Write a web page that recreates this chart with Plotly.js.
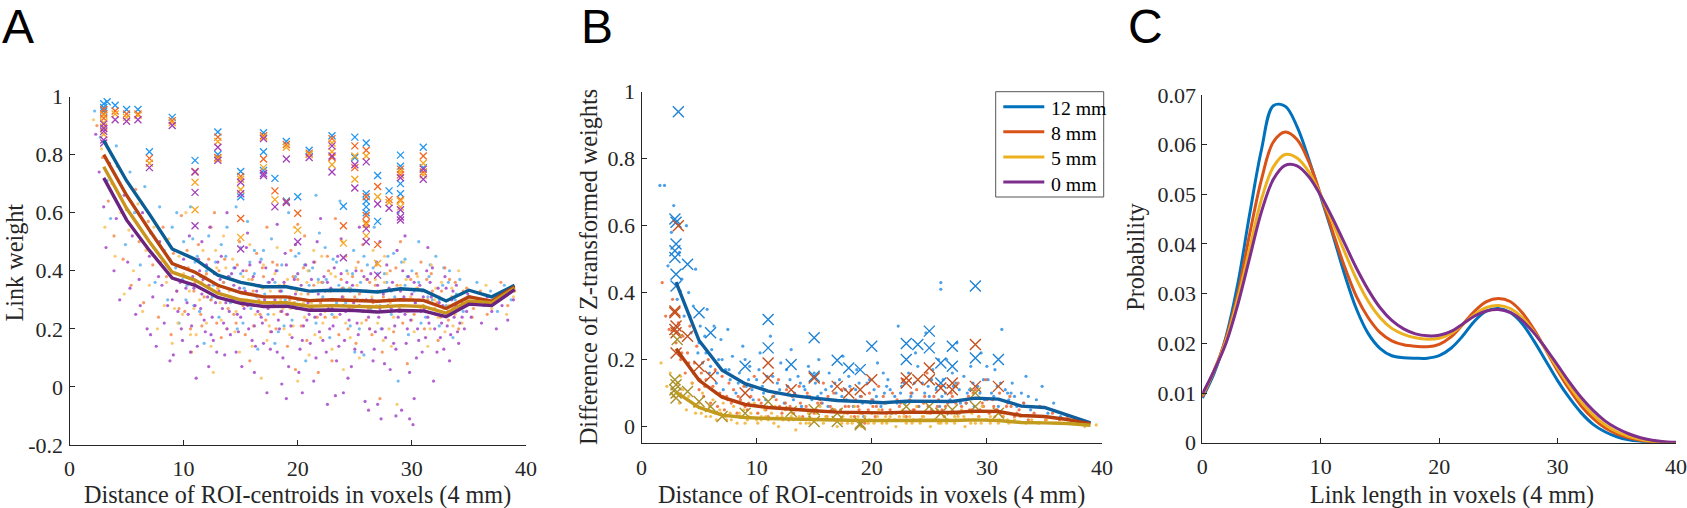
<!DOCTYPE html>
<html>
<head>
<meta charset="utf-8">
<script src="https://cdn.plot.ly/plotly-3.0.1.min.js"></script>
<style>
  html, body { margin: 0; padding: 0; background: #fff; }
  #fig { width: 1687px; height: 508px; }
</style>
</head>
<body>
<div id="fig"></div>
<script>
// ---------- series names ----------
const seriesNames = ['12 mm', '8 mm', '5 mm', '0 mm'];

// ---------- tick positions and labels ----------
const distTicks = [0, 10, 20, 30, 40];
const distTickText = ['0', '10', '20', '30', '40'];
const weightTicks = [-0.2, 0, 0.2, 0.4, 0.6, 0.8, 1];
const weightTickText = ['-0.2', '0', '0.2', '0.4', '0.6', '0.8', '1'];
const diffTicks = [0, 0.2, 0.4, 0.6, 0.8, 1];
const diffTickText = ['0', '0.2', '0.4', '0.6', '0.8', '1'];
const probTicks = [0, 0.01, 0.02, 0.03, 0.04, 0.05, 0.06, 0.07];
const probTickText = ['0', '0.01', '0.02', '0.03', '0.04', '0.05', '0.06', '0.07'];

// ---------- panel A: link weight vs. centroid distance ----------
const binCenters = [3, 5, 7, 9, 11, 13, 15, 17, 19, 21, 23, 25, 27, 29, 31, 33, 35, 37, 39];
const meanWeight12 = [0.848, 0.71, 0.595, 0.475, 0.44, 0.385, 0.36, 0.345, 0.345, 0.33, 0.333, 0.332, 0.327, 0.338, 0.333, 0.296, 0.333, 0.31, 0.35];
const meanWeight8  = [0.80, 0.66, 0.54, 0.425, 0.395, 0.35, 0.325, 0.31, 0.31, 0.297, 0.30, 0.298, 0.295, 0.30, 0.298, 0.27, 0.31, 0.295, 0.345];
const meanWeight5  = [0.758, 0.615, 0.50, 0.395, 0.368, 0.323, 0.30, 0.29, 0.29, 0.278, 0.28, 0.278, 0.275, 0.28, 0.277, 0.254, 0.296, 0.29, 0.34];
const meanWeight0  = [0.72, 0.575, 0.47, 0.375, 0.35, 0.308, 0.288, 0.277, 0.278, 0.264, 0.265, 0.263, 0.258, 0.263, 0.262, 0.242, 0.285, 0.28, 0.335];

// strongest links per distance (x markers)
const topWeight12 = [[3,.975],[3,.962],[3,.95],[3.3,.982],[4,.97],[5,.955],[6,.955],[7,.81],[9,.928],[11,.78],[13,.878],[13,.8],[15,.742],[15,.655],[17,.875],[17,.81],[17,.745],[18,.718],[19,.845],[19,.64],[20,.655],[21,.815],[23,.865],[24,.622],[25,.86],[25,.79],[26,.84],[26,.665],[26,.64],[26,.62],[26,.6],[27,.728],[27,.57],[28,.675],[29,.798],[29,.76],[29,.7],[29,.665],[31,.825],[31,.755]];
const topWeight8 = [[3,.955],[3,.94],[3,.925],[4,.95],[5,.94],[6,.94],[7,.787],[9,.917],[11,.742],[13,.86],[13,.79],[15,.725],[15,.58],[17,.865],[17,.785],[18,.675],[19,.835],[19,.638],[20,.598],[21,.805],[23,.855],[23,.79],[24,.555],[25,.83],[25,.755],[26,.815],[26,.655],[26,.59],[26,.565],[27,.69],[27,.49],[28,.645],[29,.75],[29,.73],[29,.645],[31,.795],[31,.74]];
const topWeight5 = [[3,.935],[3,.91],[3,.895],[3,.87],[4,.94],[5,.928],[6,.935],[7,.77],[9,.91],[11,.705],[11,.61],[13,.845],[13,.785],[15,.715],[15,.68],[15,.515],[17,.86],[17,.755],[18,.645],[19,.825],[20,.54],[21,.8],[23,.84],[23,.81],[23,.765],[24,.495],[25,.795],[25,.715],[26,.795],[26,.56],[26,.52],[27,.655],[27,.425],[28,.635],[29,.74],[29,.64],[29,.62],[31,.77],[31,.73]];
const topWeight0 = [[3,.905],[3,.89],[3,.88],[3,.85],[3,.84],[4,.92],[5,.915],[6,.92],[7,.755],[9,.9],[11,.74],[11,.67],[11,.555],[13,.825],[13,.78],[15,.705],[15,.665],[15,.475],[17,.855],[17,.735],[17,.728],[18,.62],[19,.785],[19,.635],[20,.5],[21,.79],[23,.83],[23,.795],[23,.74],[24,.445],[25,.765],[25,.685],[26,.775],[26,.545],[26,.5],[27,.63],[27,.385],[28,.615],[29,.72],[29,.61],[29,.585],[29,.575],[31,.75],[31,.715]];

// individual links [distance, weight]
const linkWeight12 = [[2.2,.95],[2.7,.86],[3.3,.71],[3.6,.58],[4.1,.83],[4.4,.66],[4.9,.49],[5.3,.74],[5.7,.6],[6.2,.42],[6.6,.69],[7.1,.53],[7.5,.36],[7.9,.62],
[8.3,.47],[8.6,.3],[9.0,.55],[9.3,.41],[9.6,.22],[10.0,.5],[10.3,.35],[10.6,.62],[10.9,.28],[11.2,.45],[11.5,.38],[11.8,.15],[12.2,.52],[12.5,.31],[12.8,.43],[13.1,.24],[13.5,.36],[13.8,.55],
[14.1,.29],[14.4,.41],[14.7,.2],[15.0,.48],[15.3,.34],[15.6,.57],[15.9,.27],[16.2,.39],[16.5,.13],[16.8,.44],[17.1,.32],[17.4,.25],[17.7,.51],[18.0,.36],[18.3,.19],[18.6,.42],[18.9,.3],[19.2,.6],[19.5,.23],[19.8,.38],[20.1,.46],[20.4,.28],[20.7,.09],[21.0,.35],[21.3,.41],[21.6,.22],[21.9,.53],[22.2,.31],[22.5,.37],[22.8,.17],[23.1,.44],[23.4,.29],[23.7,.64],[24.0,.34],[24.3,.4],[24.6,.21],[24.9,.47],[25.2,.3],[25.5,.36],[25.8,.11],[26.1,.42],[26.4,.27],[26.7,.55],[27.0,.33],[27.3,.2],[27.6,.39],[27.9,.45],[28.2,.25],[28.5,.31],[28.8,.02],[29.1,.43],[29.4,.35],[29.7,.18],
[30.0,.4],[30.3,.29],[30.6,.5],[30.9,.33],[31.2,.24],[31.5,.38],[31.8,.3],[32.1,.45],[32.4,.21],[32.7,.35],[33.0,.28],[33.3,.4],[33.6,.17],[33.9,.32],[34.2,.37],[34.5,.26],
[35.1,.31],[35.7,.36],[36.3,.28],[36.9,.33],[37.5,.26],[38.1,.35],[38.7,.3],
[8.8,.44],[9.4,.6],[10.2,.3],[10.8,.51],[11.4,.26],[12.0,.4],[12.6,.35],[13.3,.49],[14.0,.38],[14.6,.33],[15.2,.22],[15.8,.43],[16.4,.31],[17.0,.47],[17.6,.29],[18.2,.4],[18.8,.21],[19.4,.34],[20.0,.3],[20.6,.42],[21.2,.27],[21.8,.37],[22.4,.48],[23.0,.25],[23.6,.35],[24.2,.29],[24.8,.39],[25.4,.2],[26.0,.33],[26.6,.41],[27.2,.28],[27.8,.36],[28.4,.46],[29.0,.26],[29.6,.38],[30.2,.33],[30.8,.22],[31.6,.42],[32.4,.3],[33.2,.36],[34.0,.27],
[9.9,.37],[11.0,.43],[12.4,.3],[13.7,.45],[15.0,.39],[16.2,.47],[17.4,.36],[18.6,.33],[19.8,.45],[21.0,.4],[22.2,.36],[23.4,.43],[24.6,.34],[25.8,.45],[27.0,.39],[28.2,.33],[29.4,.44],[30.6,.36],[31.4,.31],[32.8,.41],[33.8,.3],[14.6,.62],[21.6,.66],[28.8,.6],[25.0,.12],[18.0,.15]];
const linkWeight8 = [[2.4,.9],[2.9,.79],[3.4,.64],[3.9,.52],[4.2,.76],[4.7,.44],[5.0,.61],[5.4,.35],[5.8,.68],[6.1,.5],[6.5,.29],[6.9,.57],[7.3,.42],[7.8,.24],
[8.2,.55],[8.5,.38],[8.9,.18],[9.1,.46],[9.4,.33],[9.8,.59],[10.1,.26],[10.4,.41],[10.7,.12],[11.0,.36],[11.3,.49],[11.6,.21],[12.0,.39],[12.4,.3],[12.7,.6],[13.0,.34],[13.3,.17],[13.6,.44],[13.9,.27],
[14.3,.37],[14.6,.22],[14.9,.5],[15.2,.28],[15.5,.4],[15.8,.09],[16.1,.33],[16.4,.46],[16.7,.25],[17.0,.38],[17.3,.55],[17.6,.19],[17.9,.31],[18.2,.42],[18.5,.26],[18.8,.35],[19.1,.14],[19.4,.47],[19.7,.29],[20.0,.37],[20.3,.21],[20.6,.52],[20.9,.32],[21.2,.27],[21.5,.43],[21.8,.05],[22.1,.36],[22.4,.24],[22.7,.4],[23.0,.3],[23.3,.58],[23.6,.18],[23.9,.34],[24.2,.45],[24.5,.27],[24.8,.38],[25.1,.15],[25.4,.32],[25.7,.49],[26.0,.23],[26.3,.36],[26.6,.29],[26.9,.42],[27.2,-.04],[27.5,.31],[27.8,.26],[28.1,.4],[28.4,.19],[28.7,.35],[29.0,.5],[29.3,.28],[29.6,.08],[29.9,.37],
[30.2,.25],[30.5,.34],[30.8,.43],[31.1,.2],[31.4,.3],[31.7,.39],[32.0,.27],[32.3,.16],[32.6,.33],[32.9,.41],[33.2,.23],[33.5,.31],[33.8,.36],[34.1,.2],[34.4,.29],[34.8,.34],
[35.4,.27],[36.0,.33],[36.6,.25],[37.2,.3],[37.8,.36],[38.4,.28],[39.0,.33],
[8.7,.41],[9.6,.27],[10.3,.47],[10.9,.33],[11.5,.25],[12.2,.44],[12.9,.22],[13.5,.36],[14.1,.3],[14.7,.42],[15.4,.18],[16.0,.37],[16.6,.3],[17.2,.23],[17.8,.43],[18.4,.33],[19.0,.25],[19.6,.38],[20.2,.3],[20.8,.16],[21.4,.35],[22.0,.29],[22.6,.45],[23.2,.24],[23.8,.37],[24.4,.2],[25.0,.31],[25.6,.4],[26.2,.27],[26.8,.35],[27.4,.12],[28.0,.3],[28.6,.41],[29.2,.22],[29.8,.3],[30.4,.39],[31.0,.28],[31.8,.33],[32.5,.24],[33.3,.37],[34.0,.28],
[9.3,.39],[10.6,.2],[11.8,.31],[13.1,.4],[14.4,.25],[15.7,.32],[16.9,.41],[18.1,.2],[19.3,.3],[20.5,.41],[21.7,.24],[22.9,.33],[24.1,.3],[25.3,.43],[26.5,.18],[27.7,.33],[28.9,.27],[30.1,.3],[31.3,.37],[32.2,.29],[33.6,.27],[34.5,.33],[12.4,.55],[20.0,.56],[26.0,.55],[23.0,.09],[19.8,.06]];
const linkWeight5 = [[2.1,.92],[2.8,.82],[3.1,.55],[3.7,.7],[4.0,.45],[4.5,.6],[4.8,.32],[5.2,.54],[5.6,.4],[6.0,.63],[6.4,.26],[6.7,.47],[7.0,.35],[7.4,.55],[7.7,.2],
[8.0,.43],[8.3,.28],[8.7,.51],[9.0,.15],[9.3,.37],[9.6,.45],[9.9,.25],[10.2,.6],[10.5,.33],[10.8,.4],[11.1,.18],[11.4,.3],[11.7,.47],[12.0,.22],[12.3,.35],[12.6,.05],[12.9,.41],[13.2,.29],[13.5,.52],[13.8,.2],
[14.0,.33],[14.3,.44],[14.6,.26],[14.9,.12],[15.2,.38],[15.5,.3],[15.8,.49],[16.1,.21],[16.4,.35],[16.7,.28],[17.0,.42],[17.3,.16],[17.6,.33],[17.9,.25],[18.2,.48],[18.5,.3],[18.8,.2],[19.1,.37],[19.4,.27],[19.7,.55],[20.0,.02],[20.3,.32],[20.6,.24],[20.9,.4],[21.2,.29],[21.5,.18],[21.8,.36],[22.1,.45],[22.4,.26],[22.7,.33],[23.0,.13],[23.3,.38],[23.6,.28],[23.9,.5],[24.2,.22],[24.5,.34],[24.8,.27],[25.1,.41],[25.4,.1],[25.7,.3],[26.0,.37],[26.3,.2],[26.6,.47],[26.9,.28],[27.2,.33],[27.5,.16],[27.8,.39],[28.1,.29],[28.4,.24],[28.7,-.06],[29.0,.35],[29.3,.43],[29.6,.26],[29.9,.31],
[30.2,.19],[30.5,.38],[30.8,.27],[31.1,.33],[31.4,.14],[31.7,.42],[32.0,.3],[32.3,.24],[32.6,.36],[32.9,.19],[33.2,.28],[33.5,.34],[33.8,.25],[34.1,.4],[34.4,.22],[34.7,.3],
[35.3,.24],[35.9,.3],[36.5,.35],[37.0,.27],[37.7,.32],[38.3,.25],[38.9,.31],
[8.5,.36],[9.5,.22],[10.0,.39],[10.9,.27],[11.6,.36],[12.4,.14],[13.0,.34],[13.7,.41],[14.5,.19],[15.0,.29],[15.7,.37],[16.3,.25],[16.9,.34],[17.5,.21],[18.0,.39],[18.7,.27],[19.3,.18],[19.9,.33],[20.5,.29],[21.0,.11],[21.7,.3],[22.2,.22],[22.9,.39],[23.4,.24],[24.0,.31],[24.6,.17],[25.2,.35],[25.9,.26],[26.5,.31],[27.0,.22],[27.6,.36],[28.2,.14],[28.9,.3],[29.5,.37],[30.0,.23],[30.6,.3],[31.3,.26],[32.1,.34],[32.8,.27],[33.6,.21],[34.3,.32],
[9.2,.27],[10.6,.18],[11.9,.38],[13.3,.23],[14.8,.36],[16.0,.14],[17.1,.29],[18.4,.35],[19.6,.21],[20.8,.36],[22.0,.17],[23.1,.3],[24.4,.39],[25.6,.22],[26.8,.37],[28.0,.2],[29.2,.28],[30.4,.34],[31.6,.2],[32.4,.31],[33.4,.25],[34.6,.28],[12.8,.47],[21.4,.47],[27.6,.45],[24.0,.06],[16.8,.03]];
const linkWeight0 = [[2.3,.87],[2.6,.74],[3.0,.62],[3.2,.48],[3.5,.77],[3.9,.4],[4.1,.58],[4.4,.3],[4.8,.66],[5.1,.43],[5.5,.52],[5.8,.25],[6.1,.37],[6.4,.6],[6.8,.2],[7.0,.45],[7.3,.31],[7.6,.14],[7.9,.5],
[8.1,.35],[8.3,.22],[8.5,.42],[8.8,.09],[9.0,.3],[9.2,.47],[9.5,.26],[9.7,.36],[9.9,.16],[10.1,.41],[10.3,.29],[10.5,.52],[10.7,.21],[10.9,.34],[11.1,.03],[11.3,.44],[11.5,.27],[11.7,.37],[11.9,.19],[12.1,.31],[12.3,.55],[12.5,.24],[12.7,.39],[12.9,.12],[13.1,.33],[13.3,.45],[13.5,.22],[13.7,.29],[13.9,.38],
[14.1,.18],[14.3,.3],[14.5,.41],[14.7,.25],[14.9,.34],[15.1,.07],[15.3,.27],[15.5,.48],[15.7,.2],[15.9,.32],[16.1,.38],[16.3,.14],[16.5,.26],[16.7,.43],[16.9,.22],[17.1,.3],[17.3,-.02],[17.5,.36],[17.7,.19],[17.9,.28],[18.1,.4],[18.3,.23],[18.5,.33],[18.7,.1],[18.9,.46],[19.1,.25],[19.3,.31],[19.5,.17],[19.7,.37],[19.9,.27],[20.1,.05],[20.3,.35],[20.5,.21],[20.7,.42],[20.9,.29],[21.1,.15],[21.3,.33],[21.5,.24],[21.7,.5],[21.9,.19],[22.1,.3],[22.3,.38],[22.5,.12],[22.7,.27],[22.9,.34],[23.1,.21],[23.3,-.03],[23.5,.45],[23.7,.25],[23.9,.31],[24.1,.16],[24.3,.36],[24.5,.23],[24.7,.07],[24.9,.29],[25.1,.4],[25.3,.18],[25.5,.33],[25.7,.26],[25.9,-.05],[26.1,.37],[26.3,.2],[26.5,.3],[26.7,.13],[26.9,.43],[27.1,.24],[27.3,-.11],[27.5,.32],[27.7,.17],[27.9,.28],[28.1,.06],[28.3,.36],[28.5,.21],[28.7,.47],[28.9,.26],[29.1,-.08],[29.3,.31],[29.5,.15],[29.7,.38],[29.9,.23],
[30.1,-.13],[30.3,.29],[30.5,.2],[30.7,.35],[30.9,.12],[31.1,.27],[31.3,.4],[31.5,.22],[31.7,.31],[31.9,.02],[32.1,.25],[32.3,.34],[32.5,.17],[32.7,.28],[32.9,.38],[33.1,.21],[33.3,.09],[33.5,.3],[33.7,.24],[33.9,.35],[34.1,.15],[34.3,.27],[34.6,.2],[34.9,.32],
[35.2,.24],[35.6,.29],[36.1,.22],[36.6,.31],[37.0,.26],[37.4,.2],[37.9,.28],[38.4,.23],[38.9,.3],
[9.4,.33],[9.8,.2],[10.0,.44],[10.4,.25],[10.8,.38],[11.2,.14],[11.6,.32],[12.0,.42],[12.4,.18],[12.8,.29],[13.2,.37],[13.6,.11],[14.0,.26],[14.4,.35],[14.8,.19],[15.2,.4],[15.6,.28],[16.0,.16],[16.4,.33],[16.8,.24],[17.2,.41],[17.6,.13],[18.0,.3],[18.4,.2],[18.8,.36],[19.2,.07],[19.6,.28],[20.0,.39],[20.4,.16],[20.8,.23],[21.2,.37],[21.6,.1],[22.0,.25],[22.4,.33],[22.8,.2],[23.2,.41],[23.6,.14],[24.0,.28],[24.4,.03],[24.8,.35],[25.2,.22],[25.6,.12],[26.0,.3],[26.4,.39],[26.8,.19],[27.2,.27],[27.6,.08],[28.0,.34],[28.4,.15],[28.8,.24],[29.2,.4],[29.6,.2],[30.0,.32],[30.4,.1],[30.8,.26],[31.2,.17],[31.6,.36],[32.0,.2],[32.4,.29],[32.8,.13],[33.2,.26],[33.6,.33],[34.0,.19],[34.4,.24],
[5.3,.34],[6.2,.28],[7.1,.18],[7.8,.38],[8.6,.28],[9.1,.11],[12.2,.07],[16.2,.05],[19.0,-.04],[22.6,-.06],[26.2,-.08],[28.6,-.1],[13.8,.6],[18.2,.56],[22.0,.58],[25.4,.55],[29.4,.52],[31.4,.48],
[10.2,.34],[10.6,.12],[11.0,.28],[11.4,.4],[11.8,.23],[12.2,.35],[12.6,.16],[13.0,.43],[13.4,.27],[13.8,.2],[14.2,.39],[14.6,.12],[15.0,.24],[15.4,.33],[15.8,.42],[16.2,.21],[16.6,.35],[17.0,.15],[17.4,.27],[17.8,.37],[18.2,.12],[18.6,.26],[19.0,.42],[19.4,.21],[19.8,.32],[20.2,.13],[20.6,.3],[21.0,.25],[21.4,.43],[21.8,.32],[22.2,.16],[22.6,.36],[23.0,.27],[23.4,.09],[23.8,.39],[24.2,.26],[24.6,.33],[25.0,.13],[25.4,.28],[25.8,.38],[26.2,.24],[26.6,.09],[27.0,.35],[27.4,.2],[27.8,.42],[28.2,.27],[28.6,.13],[29.0,.33],[29.4,.25],[29.8,.05],[30.2,.36],[30.6,.16],[31.0,.31],[31.4,.24],[31.8,.41],[32.2,.12],[32.6,.22],[33.0,.34],[33.4,.18],[33.8,.28],[34.2,.22],[34.8,.26],
[15.6,.53],[19.8,.49],[23.8,.51],[27.2,.5],[11.6,.5],[20.4,-.02],[24.0,-.02],[27.0,-.06],[29.8,-.11],[30.2,-.04],[21.4,.02],[18.6,.01]];

// ---------- panel B: difference of Z-transformed weights ----------
const meanDiff12 = [0.431, 0.257, 0.168, 0.128, 0.106, 0.093, 0.085, 0.078, 0.075, 0.071, 0.076, 0.076, 0.075, 0.085, 0.082, 0.061, 0.057, 0.034, 0.011];
const meanDiff8  = [0.232, 0.138, 0.088, 0.066, 0.057, 0.051, 0.047, 0.043, 0.042, 0.041, 0.043, 0.043, 0.042, 0.046, 0.045, 0.033, 0.030, 0.021, 0.008];
const meanDiff5  = [0.103, 0.057, 0.034, 0.027, 0.024, 0.022, 0.020, 0.019, 0.018, 0.018, 0.019, 0.019, 0.018, 0.020, 0.018, 0.012, 0.011, 0.009, 0.004];

const topDiff12 = [[3.2,.94],[2.9,.62],[3,.61],[3,.545],[2.9,.525],[2.9,.505],[3,.455],[3,.42],[4,.485],[5,.34],[6,.28],[9,.18],[11,.32],[11,.235],[13,.185],[15,.265],[15,.15],[17,.198],[18,.175],[19,.17],[20,.24],[23,.248],[23,.2],[24,.245],[25,.285],[25,.235],[26,.19],[26,.13],[27,.24],[27,.18],[29,.42],[29,.205],[31,.2]];
const topDiff8 = [[3.2,.6],[2.9,.345],[2.9,.34],[3,.3],[2.9,.29],[3,.28],[3,.22],[4,.27],[5,.18],[6,.15],[9,.1],[11,.19],[11,.145],[13,.11],[15,.145],[17,.12],[18,.1],[19,.11],[20,.14],[23,.145],[23,.13],[24,.14],[25,.175],[25,.14],[26,.115],[27,.13],[27,.11],[29,.245],[29,.12],[31,.12]];
const topDiff5 = [[3.1,.26],[2.9,.14],[3,.125],[2.9,.11],[3,.1],[3,.085],[4,.105],[5,.075],[6,.06],[7,.03],[9,.04],[11,.075],[13,.045],[15,.05],[15,.015],[17,.04],[17,.015],[19,.01],[19,.005],[23,.06],[25,.06],[26,.04],[27,.05],[29,.1],[29,.06],[31,.04]];

const linkDiff12 = [[1.6,.72],[2.0,.72],[2.3,.48],[2.6,.58],[2.8,.66],[3.1,.38],[3.3,.52],[3.5,.44],[3.7,.33],[3.9,.6],[4.1,.4],[4.3,.28],[4.5,.36],[4.7,.47],[4.9,.22],[5.1,.3],[5.3,.19],[5.5,.27],[5.7,.35],[5.9,.16],[6.1,.23],[6.3,.3],[6.5,.13],[6.7,.2],[6.9,.26],[7.1,.11],[7.3,.17],[7.5,.29],[7.7,.14],[7.9,.21],
[8.2,.1],[8.5,.16],[8.8,.24],[9.1,.12],[9.4,.18],[9.7,.08],[10.0,.14],[10.3,.22],[10.6,.1],[10.9,.15],[11.2,.27],[11.5,.09],[11.8,.13],[12.1,.19],[12.4,.07],[12.7,.12],[13.0,.23],[13.3,.1],[13.6,.15],[13.9,.06],
[14.2,.11],[14.5,.18],[14.8,.08],[15.1,.13],[15.4,.2],[15.7,.07],[16.0,.11],[16.3,.16],[16.6,.05],[16.9,.1],[17.2,.14],[17.5,.21],[17.8,.08],[18.1,.12],[18.4,.06],[18.7,.17],[19.0,.09],[19.3,.03],[19.6,.13],[19.9,.07],[20.2,.11],[20.5,.19],[20.8,.06],[21.1,.1],[21.4,.14],[21.7,.04],[22.0,.09],[22.3,.3],[22.6,.12],[22.9,.07],[23.2,.16],[23.5,.1],[23.8,.22],[24.1,.06],[24.4,.13],[24.7,.28],[25.0,.09],[25.3,.17],[25.6,.11],[25.9,.06],[26.0,.43],[26.0,.41],[26.2,.14],[26.5,.2],[26.8,.08],[27.1,.12],[27.4,.25],[27.7,.07],[28.0,.15],[28.3,.1],[28.6,.18],[28.9,.06],[29.2,.12],[29.5,.22],[29.8,.08],
[30.1,.14],[30.4,.1],[30.7,.17],[31.0,.06],[31.3,.29],[31.6,.11],[31.9,.08],[32.2,.13],[32.6,.06],[33.0,.1],[33.4,.15],[33.8,.05],[34.3,.08],[34.8,.12],[35.3,.04],[35.8,.07],[36.4,.03],
[8.4,.13],[9.0,.2],[9.6,.11],[10.2,.17],[10.8,.08],[11.4,.15],[12.0,.11],[12.6,.17],[13.2,.08],[13.8,.13],[14.4,.09],[15.0,.16],[15.6,.1],[16.2,.06],[16.8,.13],[17.4,.09],[18.0,.15],[18.6,.11],[19.2,.07],[19.8,.14],[20.4,.09],[21.0,.16],[21.6,.11],[22.2,.07],[22.8,.13],[23.4,.09],[24.0,.18],[24.6,.1],[25.2,.14],[25.8,.2],[26.4,.1],[27.0,.16],[27.6,.11],[28.2,.07],[28.8,.13],[29.4,.1],[30.0,.18],[30.6,.09],[31.2,.13],[31.8,.1],[32.4,.09],[33.2,.07],[6.0,.18],[5.0,.25],[4.2,.33],[7.0,.2],
[9.3,.14],[10.5,.12],[11.7,.1],[12.9,.14],[14.1,.12],[15.3,.09],[16.5,.12],[17.7,.11],[18.9,.13],[20.1,.08],[21.3,.12],[22.5,.1],[23.7,.13],[24.9,.12],[26.1,.09],[27.3,.13],[28.5,.11],[29.7,.14],[30.9,.12],[32.1,.1],[33.6,.09],[5.6,.22],[6.6,.16],[7.6,.17]];
const linkDiff8 = [[1.8,.43],[2.1,.33],[2.4,.29],[2.7,.38],[3.0,.25],[3.2,.31],[3.4,.2],[3.6,.27],[3.8,.16],[4.0,.22],[4.2,.3],[4.4,.13],[4.6,.19],[4.8,.24],[5.0,.11],[5.2,.16],[5.4,.09],[5.6,.14],[5.8,.2],[6.0,.07],[6.2,.12],[6.4,.17],[6.6,.06],[6.8,.1],[7.0,.15],[7.2,.05],[7.4,.09],[7.6,.13],[7.8,.07],[8.0,.11],
[8.3,.04],[8.6,.08],[8.9,.12],[9.2,.05],[9.5,.09],[9.8,.15],[10.1,.04],[10.4,.07],[10.7,.11],[11.0,.03],[11.3,.06],[11.6,.1],[11.9,.14],[12.2,.04],[12.5,.07],[12.8,.02],[13.1,.09],[13.4,.05],[13.7,.12],[14.0,.03],
[14.3,.06],[14.6,.09],[14.9,.02],[15.2,.05],[15.5,.08],[15.8,.13],[16.1,.03],[16.4,.06],[16.7,.1],[17.0,.02],[17.3,.05],[17.6,.08],[17.9,.04],[18.2,.11],[18.5,.03],[18.8,.06],[19.1,.09],[19.4,.01],[19.7,.05],[20.0,.08],[20.3,.03],[20.6,.12],[20.9,.05],[21.2,.07],[21.5,.02],[21.8,.1],[22.1,.04],[22.4,.06],[22.7,.14],[23.0,.03],[23.3,.08],[23.6,.05],[23.9,.11],[24.2,.02],[24.5,.07],[24.8,.16],[25.1,.04],[25.4,.09],[25.7,.06],[26.0,.12],[26.3,.03],[26.6,.07],[26.9,.1],[27.2,.04],[27.5,.13],[27.8,.06],[28.1,.02],[28.4,.09],[28.7,.05],[29.0,.11],[29.3,.03],[29.6,.07],[29.9,.14],
[30.2,.04],[30.5,.08],[30.8,.05],[31.1,.1],[31.4,.03],[31.7,.06],[32.0,.09],[32.4,.03],[32.8,.05],[33.2,.07],[33.6,.02],[34.1,.04],[34.6,.06],[35.1,.02],[35.7,.04],[36.3,.02],[37.0,.03],
[8.4,.09],[9.0,.06],[9.6,.12],[10.2,.08],[10.8,.05],[11.4,.09],[12.0,.06],[12.6,.11],[13.2,.04],[13.8,.07],[14.4,.1],[15.0,.04],[15.6,.07],[16.2,.09],[16.8,.05],[17.4,.11],[18.0,.06],[18.6,.08],[19.2,.04],[19.8,.1],[20.4,.06],[21.0,.09],[21.6,.05],[22.2,.08],[22.8,.04],[23.4,.1],[24.0,.06],[24.6,.09],[25.2,.05],[25.8,.08],[26.4,.06],[27.0,.09],[27.6,.04],[28.2,.07],[28.8,.1],[29.4,.05],[30.0,.08],[30.6,.06],[31.2,.04],[31.8,.07],[32.6,.04],[3.5,.22],[4.5,.16],[5.5,.12],[6.5,.1],[7.5,.08],
[9.3,.07],[10.5,.06],[11.7,.08],[12.9,.06],[14.1,.05],[15.3,.07],[16.5,.05],[17.7,.06],[18.9,.05],[20.1,.06],[21.3,.04],[22.5,.07],[23.7,.05],[24.9,.06],[26.1,.05],[27.3,.07],[28.5,.05],[29.7,.06],[30.9,.05],[32.1,.06],[5.1,.14],[6.1,.11],[7.1,.09],[4.1,.19]];
const linkDiff5 = [[1.7,.19],[2.2,.12],[2.5,.16],[2.8,.09],[3.1,.13],[3.3,.07],[3.6,.11],[3.9,.05],[4.1,.09],[4.4,.13],[4.7,.04],[5.0,.07],[5.3,.1],[5.6,.03],[5.9,.06],[6.2,.08],[6.5,.02],[6.8,.05],[7.1,.07],[7.4,.02],[7.7,.04],[8.0,.06],
[8.3,.01],[8.6,.03],[8.9,.05],[9.2,.02],[9.5,.04],[9.8,.07],[10.1,.01],[10.4,.03],[10.7,.05],[11.0,.02],[11.3,.04],[11.6,.06],[11.9,.0],[12.2,.03],[12.5,.05],[12.8,.02],[13.1,.04],[13.4,-.01],[13.7,.03],[14.0,.05],
[14.3,.01],[14.6,.03],[14.9,.02],[15.2,.04],[15.5,.06],[15.8,.01],[16.1,.03],[16.4,.02],[16.7,.05],[17.0,.0],[17.3,.02],[17.6,.04],[17.9,.01],[18.2,.03],[18.5,.06],[18.8,.02],[19.1,.0],[19.4,.03],[19.7,.01],[20.0,.04],[20.3,.02],[20.6,.05],[20.9,.01],[21.2,.03],[21.5,.02],[21.8,.04],[22.1,.0],[22.4,.03],[22.7,.05],[23.0,.01],[23.3,.03],[23.6,.02],[23.9,.06],[24.2,.01],[24.5,.03],[24.8,.04],[25.1,.0],[25.4,.02],[25.7,.05],[26.0,.01],[26.3,.03],[26.6,.02],[26.9,.04],[27.2,.01],[27.5,.03],[27.8,.05],[28.1,.0],[28.4,.02],[28.7,.04],[29.0,.01],[29.3,.03],[29.6,.06],[29.9,.02],
[30.3,.01],[30.7,.03],[31.1,.02],[31.5,.04],[31.9,.01],[32.4,.02],[32.9,.03],[33.4,.01],[33.9,.02],[34.5,.01],[35.2,.02],[36.0,.01],[37.0,.01],[38.5,.0],[39.5,.005],
[5.2,.04],[6.0,.03],[6.9,.04],[7.8,.02],[8.5,.04],[9.3,.03],[10.0,.02],[10.8,.03],[11.5,.01],[12.3,.02],[13.0,.03],[13.8,.01],[14.5,.04],[15.3,.02],[16.0,.03],[16.8,.02],[17.5,.03],[18.3,.01],[19.0,.04],[19.8,.02],[20.5,.03],[21.3,.01],[22.0,.02],[22.8,.03],[23.5,.01],[24.3,.02],[25.0,.04],[25.8,.02],[26.5,.01],[27.3,.02],[28.0,.03],[28.8,.02],[29.5,.01],[30.3,.03],[31.0,.01],[31.8,.02],[3.4,.15],[4.0,.08],[2.6,.1],
[9.0,.01],[10.4,.02],[11.8,.03],[13.2,.02],[14.6,.01],[16.0,.02],[17.4,.01],[18.8,.03],[20.2,.01],[21.6,.03],[23.0,.02],[24.4,.03],[25.8,.01],[27.2,.03],[28.6,.01],[30.0,.02],[31.4,.03],[6.4,.04],[7.3,.03],[4.6,.06]];

// ---------- panel C: link length distribution ----------
const linkLength = [0,1,2,3,4,5,6,7,8,9,10,11,12,13,14,15,16,17,18,19,20,21,22,23,24,25,26,27,28,29,30,31,32,33,34,35,36,37,38,39,40];
const prob12 = [0.009,0.014,0.0213,0.032,0.046,0.059,0.0678,0.0677,0.0636,0.057,0.0495,0.042,0.034,0.027,0.022,0.019,0.0175,0.0171,0.017,0.017,0.0175,0.019,0.0215,0.0245,0.0265,0.027,0.0262,0.024,0.0205,0.0165,0.0125,0.009,0.006,0.0037,0.0022,0.0012,0.0006,0.0003,0.0001,0.00005,0];
const prob8  = [0.0092,0.0145,0.021,0.030,0.042,0.053,0.0605,0.0625,0.061,0.0565,0.0498,0.0425,0.0355,0.0295,0.0252,0.0222,0.0205,0.0197,0.0194,0.0193,0.0198,0.0213,0.0238,0.0265,0.0284,0.029,0.0284,0.0262,0.0228,0.0187,0.0145,0.0107,0.0074,0.0049,0.003,0.0018,0.001,0.0005,0.0002,0.0001,0];
const prob5  = [0.0095,0.0145,0.0205,0.029,0.039,0.049,0.0555,0.058,0.0573,0.0545,0.0498,0.0443,0.0385,0.033,0.0285,0.0252,0.023,0.0218,0.0211,0.0208,0.021,0.022,0.0238,0.0258,0.0272,0.0276,0.027,0.0252,0.0223,0.0188,0.015,0.0114,0.0082,0.0056,0.0036,0.0022,0.0013,0.0007,0.0003,0.0001,0.00005];
const prob0  = [0.0098,0.0145,0.020,0.0278,0.0372,0.0465,0.053,0.0558,0.0557,0.0535,0.0497,0.0452,0.0402,0.0352,0.0308,0.0272,0.0246,0.0229,0.0219,0.0215,0.0216,0.0224,0.0239,0.0255,0.0265,0.0268,0.0262,0.0246,0.0221,0.019,0.0156,0.0122,0.0091,0.0065,0.0044,0.0029,0.0018,0.001,0.0005,0.0002,0.0001];

// ---------- styling ----------
const W = 1687, H = 508;
const px = v => v / W;
const py = v => 1 - v / H;
const SERIF = 'Liberation Serif, Times New Roman, serif';
const SANS = 'Liberation Sans, Arial, sans-serif';
const INK = '#262626';

const colMain   = ['#0072BD', '#D95319', '#EDB120', '#7E2F8E'];
const colLineA  = ['#0b5d95', '#b8420f', '#c9951c', '#6a2480'];
const colTopA   = ['#2196f0', '#f26522', '#f5a623', '#a23fb8'];
const colDotA   = ['#5ab0f0', '#f7894a', '#f9c25a', '#a545c8'];
const colLineB  = ['#0f5f9e', '#b5400e', '#c29a1c'];
const colTopB   = ['#1f83d6', '#c4501e', '#a8902a'];
const colDotB   = ['#2b8fe6', '#ef6330', '#f2b233'];

function dots(pairs, xa, ya, color, size) {
  return { type: 'scatter', mode: 'markers', xaxis: xa, yaxis: ya,
    x: pairs.map(p => p[0]), y: pairs.map(p => p[1]),
    marker: { size: size, color: color, opacity: 0.85, line: { width: 0 } },
    showlegend: false, hoverinfo: 'skip' };
}
function crosses(pairs, xa, ya, color, size, lw) {
  return { type: 'scatter', mode: 'markers', xaxis: xa, yaxis: ya,
    x: pairs.map(p => p[0]), y: pairs.map(p => p[1]),
    marker: { symbol: 'x-thin', size: size, line: { color: color, width: lw } },
    showlegend: false, hoverinfo: 'skip' };
}
function line(xs, ys, xa, ya, color, w, shape) {
  return { type: 'scatter', mode: 'lines', xaxis: xa, yaxis: ya,
    x: xs, y: ys, line: { color: color, width: w, shape: shape || 'linear', smoothing: 1 },
    showlegend: false, hoverinfo: 'skip' };
}

const traces = [];
// panel A
[linkWeight12, linkWeight8, linkWeight5, linkWeight0].forEach((d, i) =>
  traces.push(dots(d, 'x', 'y', colDotA[i], 3.2)));
[topWeight12, topWeight8, topWeight5, topWeight0].forEach((d, i) =>
  traces.push(crosses(d, 'x', 'y', colTopA[i], 7, 1.3)));
[meanWeight12, meanWeight8, meanWeight5, meanWeight0].forEach((d, i) =>
  traces.push(line(binCenters, d, 'x', 'y', colLineA[i], 3.4)));
// panel B
[linkDiff12, linkDiff8, linkDiff5].forEach((d, i) =>
  traces.push(dots(d, 'x2', 'y2', colDotB[i], 3.2)));
[topDiff12, topDiff8, topDiff5].forEach((d, i) =>
  traces.push(crosses(d, 'x2', 'y2', colTopB[i], 11, 1.4)));
[meanDiff12, meanDiff8, meanDiff5].forEach((d, i) =>
  traces.push(line(binCenters, d, 'x2', 'y2', colLineB[i], 3.4)));
// panel C
[prob12, prob8, prob5, prob0].forEach((d, i) =>
  traces.push(line(linkLength, d, 'x3', 'y3', colMain[i], 3, 'spline')));

function axis(domain, range, tickvals, ticktext, anchor, standoff) {
  return { domain: domain, range: range, anchor: anchor, fixedrange: true,
    showline: true, linecolor: INK, linewidth: 1, mirror: false,
    ticks: 'inside', ticklen: 5, tickwidth: 1, tickcolor: INK,
    tickmode: 'array', tickvals: tickvals, ticktext: ticktext,
    ticklabelstandoff: standoff,
    tickfont: { family: SERIF, size: 22, color: INK },
    showgrid: false, zeroline: false };
}

// legend box (inside panel B, top right), drawn in page pixels
const legBox = { x0: 995.7, x1: 1103.7, y0: 91.7, y1: 197 };
const legRows = [106.7, 131.8, 156.9, 182.0];
const legShapes = [{ type: 'rect', xref: 'paper', yref: 'paper',
  x0: px(legBox.x0), x1: px(legBox.x1), y0: py(legBox.y1), y1: py(legBox.y0),
  fillcolor: '#ffffff', line: { color: '#555555', width: 1 } }].concat(
  legRows.map((r, i) => ({ type: 'line', xref: 'paper', yref: 'paper',
    x0: px(1003.3), x1: px(1044.3), y0: py(r), y1: py(r),
    line: { color: colMain[i], width: 3 } })));
const legText = legRows.map((r, i) => ({ text: seriesNames[i], xref: 'paper', yref: 'paper',
  x: px(1049.3), y: py(r + 1.5), xanchor: 'left', yanchor: 'middle', showarrow: false,
  font: { family: SERIF, size: 19.8, color: '#000000' } }));

const layout = {
  width: W, height: H,
  margin: { l: 0, r: 0, t: 0, b: 0 },
  paper_bgcolor: '#ffffff', plot_bgcolor: 'rgba(0,0,0,0)',
  showlegend: false,
  xaxis:  axis([px(69.5), px(526)], [0, 40], distTicks, distTickText, 'y', 4),
  yaxis:  axis([py(445), py(96.5)], [-0.2, 1], weightTicks, weightTickText, 'x', 1),
  xaxis2: axis([px(641.5), px(1102)], [0, 40], distTicks, distTickText, 'y2', 4),
  yaxis2: axis([py(443.3), py(91.7)], [-0.05, 1], diffTicks, diffTickText, 'x2', 1),
  xaxis3: axis([px(1202.3), px(1676)], [0, 40], distTicks, distTickText, 'y3', 4),
  yaxis3: axis([py(442.7), py(94.8)], [0, 0.07], probTicks, probTickText, 'x3', 1),
  shapes: legShapes,
  annotations: [
    { text: 'A', x: px(0), y: py(26.4), xanchor: 'left', yanchor: 'middle' },
    { text: 'B', x: px(579), y: py(26.4), xanchor: 'left', yanchor: 'middle' },
    { text: 'C', x: px(1126), y: py(26.4), xanchor: 'left', yanchor: 'middle' }
  ].map(a => Object.assign(a, { xref: 'paper', yref: 'paper', showarrow: false,
      font: { family: SANS, size: 48, color: '#000000' } })).concat([
    { text: 'Distance of ROI-centroids in voxels (4 mm)', x: px(297.75), y: py(494.5) },
    { text: 'Distance of ROI-centroids in voxels (4 mm)', x: px(871.75), y: py(494.5) },
    { text: 'Link length in voxels (4 mm)', x: px(1452), y: py(494.5) },
    { text: 'Link weight', x: px(13.5), y: py(263), textangle: -90 },
    { text: 'Difference of Z-transformed weights', x: px(588.6), y: py(267.5), textangle: -90 },
    { text: 'Probability', x: px(1135.2), y: py(256.5), textangle: -90 }
  ].map(a => Object.assign(a, { xref: 'paper', yref: 'paper', showarrow: false,
      xanchor: 'center', yanchor: 'middle',
      font: { family: SERIF, size: 24.2, color: INK } })), legText)
};

Plotly.newPlot('fig', traces, layout, { staticPlot: true, displayModeBar: false });
</script>
</body>
</html>
